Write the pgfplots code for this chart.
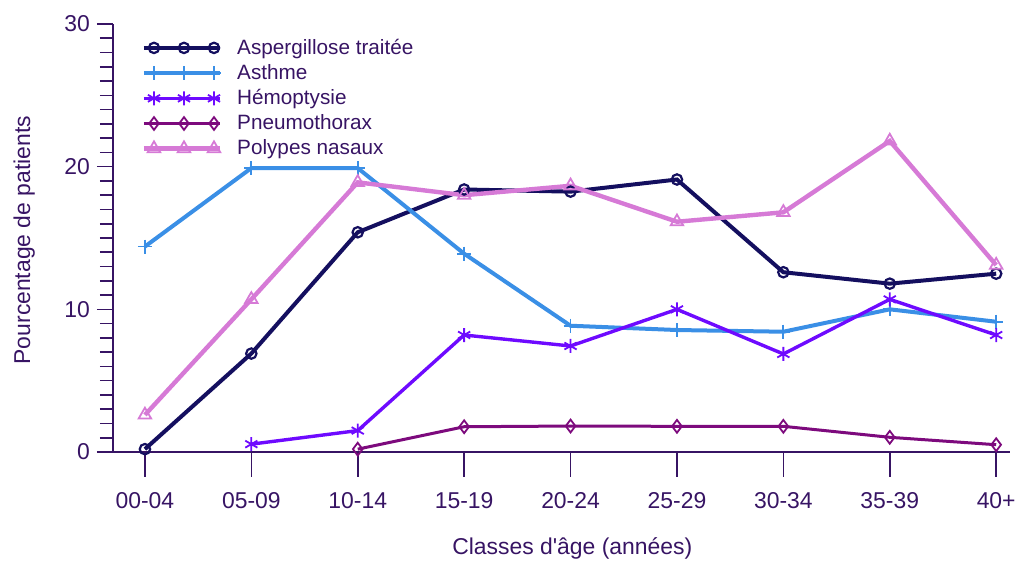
\documentclass[border=0pt]{standalone}
\usepackage{pgfplots}
\pgfplotsset{compat=1.18}
\usepackage{fontspec}
\setmainfont{Liberation Sans}
\newfontfamily\straight{Liberation Sans}[Ligatures=ResetAll]
\definecolor{axc}{RGB}{55,20,100}
\definecolor{c1}{RGB}{20,15,95}
\definecolor{c2}{RGB}{58,143,230}
\definecolor{c3}{RGB}{110,10,255}
\definecolor{c4}{RGB}{125,10,125}
\definecolor{c5}{RGB}{214,122,214}
\begin{document}
\begin{tikzpicture}
\useasboundingbox (0,0) rectangle (512bp,281bp);
\begin{axis}[
  at={(56.5bp,55bp)}, anchor=south west,
  scale only axis, width=448.5bp, height=214bp,
  xmin=-0.3, xmax=8.13, ymin=0, ymax=30,
  axis x line=bottom, axis y line=none,
  axis line style={axc, line width=0.8bp, -},
  xtick={0,...,8}, xticklabels={},
  ytick=\empty,
  tick align=outside,
  major tick length=12.5bp,
  tick style={axc, line width=0.8bp},
]
\addplot[draw=none] coordinates {(0,0)};
\end{axis}
\begin{axis}[
  at={(56.5bp,55bp)}, anchor=south west,
  scale only axis, width=448.5bp, height=214bp,
  xmin=-0.3, xmax=8.13, ymin=0, ymax=30,
  axis x line=bottom, axis y line=left,
  axis line style={axc, line width=0.8bp, -},
  clip=false,
  xtick={0,...,8},
  xticklabels={00-04,05-09,10-14,15-19,20-24,25-29,30-34,35-39,40+},
  ytick={0,10,20,30},
  minor ytick={1,...,9,11,12,...,19,21,22,...,29},
  tick align=outside,
  major tick length=8bp,
  minor tick length=6.5bp,
  tick style={axc, line width=0.8bp},
  /pgf/number format/assume math mode=true,
  ticklabel style={font=\fontsize{11.5}{13}\selectfont, text=axc},
  xticklabel style={yshift=-8.5bp},
  xlabel={Classes d{\straight'}âge (années)},
  ylabel={Pourcentage de patients},
  label style={font=\fontsize{11.5}{13}\selectfont, text=axc},
  xlabel style={at={(axis description cs:0.512,-0.226)}, anchor=center},
  ylabel style={at={(axis description cs:-0.099,0.495)}, anchor=center, rotate=0},
  legend style={at={(0.025,0.985)}, anchor=north west, draw=none, fill=none,
    font=\fontsize{10.4}{11}\selectfont, text=axc, row sep=-0.45bp,
    /tikz/every odd column/.append style={column sep=5.5bp}},
  legend cell align=left,
  legend image code/.code={
    \draw[#1,mark=none] (0bp,0bp)--(38bp,0bp);
    \draw[#1,draw=none] plot coordinates {(5bp,0bp)(20bp,0bp)(35bp,0bp)};
  },
]
\addplot[c1, line width=2bp, mark=o, mark size=2.6bp, mark options={solid,line width=1.1bp}]
  coordinates {(0,0.2)(1,6.9)(2,15.4)(3,18.4)(4,18.25)(5,19.1)(6,12.6)(7,11.8)(8,12.5)};
\addlegendentry{Aspergillose traitée}
\addplot[c2, line width=2bp, mark=+, mark size=3.5bp, mark options={solid,line width=0.9bp}]
  coordinates {(0,14.4)(1,19.9)(2,19.9)(3,13.9)(4,8.85)(5,8.55)(6,8.43)(7,10.0)(8,9.13)};
\addlegendentry{Asthme}
\addplot[c3, line width=1.7bp, mark=asterisk, mark size=3.5bp, mark options={solid,line width=0.9bp}]
  coordinates {(1,0.55)(2,1.5)(3,8.2)(4,7.43)(5,10.0)(6,6.87)(7,10.7)(8,8.2)};
\addlegendentry{Hémoptysie}
\addplot[c4, line width=1.5bp, mark=diamond, mark size=3.2bp, mark options={solid,line width=0.9bp}]
  coordinates {(2,0.2)(3,1.77)(4,1.82)(5,1.8)(6,1.8)(7,1.03)(8,0.51)};
\addlegendentry{Pneumothorax}
\addplot[c5, line width=2.2bp, mark=triangle, mark size=3.6bp, mark options={solid,line width=0.9bp}]
  coordinates {(0,2.6)(1,10.7)(2,18.9)(3,18.0)(4,18.66)(5,16.14)(6,16.8)(7,21.8)(8,13.1)};
\addlegendentry{Polypes nasaux}
\draw[axc, line width=0.8bp] (axis cs:-0.45,0) -- (axis cs:-0.3,0);
\end{axis}
\end{tikzpicture}
\end{document}
